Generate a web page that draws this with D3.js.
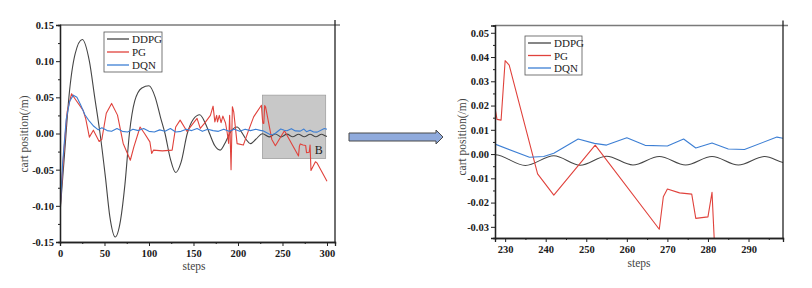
<!DOCTYPE html>
<html>
<head>
<meta charset="utf-8">
<script src="https://cdn.jsdelivr.net/npm/d3@7/dist/d3.min.js"></script>
<style>
  html, body { margin: 0; padding: 0; background: #fff; }
  svg { display: block; }
</style>
</head>
<body>
<svg id="chart" width="812" height="288"></svg>
<script>
// ---------------- data ----------------
const seriesNames = ["DDPG", "PG", "DQN"];

const ddpgSteps = [0, 5, 10, 17, 25, 33, 39, 45, 51, 56, 62, 68, 73, 78, 84, 92, 100, 107, 113, 118, 124, 130, 136, 143, 150, 157, 163, 168, 174, 180, 186, 192, 199, 204, 209, 214, 220, 227.5, 235, 242, 248.5, 255, 261.5, 268, 274.5, 281, 287.5, 294, 298.5, 300];
const ddpgValues = [-0.11, -0.03, 0.05, 0.11, 0.13, 0.10, 0.05, 0.0, -0.06, -0.115, -0.143, -0.12, -0.07, 0.0, 0.045, 0.063, 0.066, 0.05, 0.022, 0.0, -0.035, -0.054, -0.04, 0.0, 0.02, 0.026, 0.015, 0.0, -0.017, -0.023, -0.012, 0.003, 0.009, 0.002, -0.008, -0.014, -0.008, -0.0003, -0.0047, -0.0007, -0.0046, -0.0009, -0.0045, -0.001, -0.0045, -0.001, -0.0045, -0.001, -0.0035, -0.004];

const pgSteps = [0, 4, 8, 13, 18, 26, 29, 33, 37.5, 44, 47, 52, 58, 64.6, 71, 79, 83, 90, 95, 101, 103, 105, 115, 126, 130, 135, 142.6, 154, 157.6, 163, 169, 172, 174, 176, 177, 179, 181, 183, 186, 188, 189.5, 190.6, 192.2, 193.7, 195.2, 199, 206, 212, 217.6, 226.3, 227.5, 228, 229, 230, 231, 238, 242, 252.2, 268, 269, 270, 273, 276, 277, 280, 281, 282, 287, 289, 300];
const pgValues = [-0.108, -0.03, 0.03, 0.055, 0.046, 0.032, 0.02, -0.005, 0.0046, -0.011, -0.008, 0.028, 0.0416, 0.0254, -0.0138, -0.037, -0.0185, 0.009, 0.0, -0.0116, -0.0277, -0.023, -0.024, -0.023, 0.009, 0.0185, 0.003, 0.0208, 0.007, 0.015, 0.025, 0.0378, 0.016, 0.025, 0.016, 0.025, 0.015, 0.024, 0.0145, 0.0, -0.0138, 0.025, -0.05, 0.037, 0.03, -0.014, -0.016, 0.0046, 0.023, 0.039, 0.019, 0.0143, 0.014, 0.0385, 0.0367, -0.0082, -0.0169, 0.0037, -0.031, -0.0176, -0.0144, -0.016, -0.0165, -0.0265, -0.0259, -0.0158, -0.051, -0.039, -0.041, -0.066];

const dqnSteps = [0, 3, 7, 11, 15, 19, 23, 28, 33, 38, 43, 47, 53, 58, 64, 70, 76, 82, 88, 94, 100, 106, 112, 118, 124, 130, 136, 142, 148, 154, 160, 166, 172, 178, 184, 190, 196, 202, 208, 214, 220, 226, 227.5, 236, 239.5, 242, 248, 252, 255, 260, 264.5, 270, 274, 277, 281, 285, 289, 297, 300];
const dqnValues = [-0.11, -0.04, 0.02, 0.045, 0.053, 0.05, 0.04, 0.026, 0.017, 0.01, 0.005, 0.008, 0.004, 0.003, 0.007, 0.003, 0.002, 0.006, 0.004, 0.007, 0.003, 0.002, 0.005, 0.003, 0.007, 0.002, 0.003, 0.006, 0.004, 0.007, 0.003, 0.006, 0.004, 0.003, 0.006, 0.003, 0.006, 0.003, 0.006, 0.004, 0.006, 0.004, 0.0041, -0.0013, -0.001, 0.0003, 0.0062, 0.0044, 0.0037, 0.0067, 0.0036, 0.0033, 0.0062, 0.0025, 0.0046, 0.0021, 0.0019, 0.007, 0.006];

const leftXTicks = [0, 50, 100, 150, 200, 250, 300];
const leftXMinor = [25, 75, 125, 175, 225, 275];
const leftYTicks = [-0.15, -0.10, -0.05, 0.00, 0.05, 0.10, 0.15];
const leftYMinor = [-0.125, -0.075, -0.025, 0.025, 0.075, 0.125];
const rightXTicks = [230, 240, 250, 260, 270, 280, 290];
const rightXMinor = [235, 245, 255, 265, 275, 285, 295];
const rightYTicks = [-0.03, -0.02, -0.01, 0.00, 0.01, 0.02, 0.03, 0.04, 0.05];
const rightYMinor = [-0.025, -0.015, -0.005, 0.005, 0.015, 0.025, 0.035, 0.045];

const zoomBoxX = [227.5, 298.5];
const zoomBoxY = [-0.0346, 0.053];
const xTitle = "steps";
const yTitle = "cart position(/m)";

// ---------------- styling ----------------
const colors = { DDPG: "#454545", PG: "#e0423c", DQN: "#3d7fd4" };
const serif = "'Liberation Serif', 'Times New Roman', serif";

const svg = d3.select("#chart");
svg.append("rect").attr("width", 812).attr("height", 288).attr("fill", "#fff");

const series = [
  { name: "DDPG", steps: ddpgSteps, values: ddpgValues, curve: d3.curveMonotoneX },
  { name: "PG", steps: pgSteps, values: pgValues, curve: d3.curveLinear },
  { name: "DQN", steps: dqnSteps, values: dqnValues, curve: d3.curveLinear }
];

function fmt(d) { return d.toFixed(2); }

function panel(cfg) {
  const x = d3.scaleLinear().domain(cfg.xDomain).range([cfg.left, cfg.right]);
  const y = d3.scaleLinear().domain(cfg.yDomain).range([cfg.bottom, cfg.top]);
  const g = svg.append("g");
  const clipId = "clip-" + cfg.id;
  g.append("clipPath").attr("id", clipId).append("rect")
    .attr("x", cfg.left).attr("y", cfg.top)
    .attr("width", cfg.right - cfg.left).attr("height", cfg.bottom - cfg.top);

  if (cfg.box) {
    const bx0 = x(zoomBoxX[0]), bx1 = x(zoomBoxX[1]);
    const by0 = y(zoomBoxY[1]), by1 = y(zoomBoxY[0]);
    g.append("rect").attr("x", bx0).attr("y", by0)
      .attr("width", bx1 - bx0).attr("height", by1 - by0)
      .attr("fill", "#c8c8c8").attr("stroke", "#a0a0a0").attr("stroke-width", 0.8);
    g.append("text").attr("x", bx1 - 7).attr("y", by1 - 5)
      .attr("text-anchor", "middle").attr("font-family", serif)
      .attr("font-size", 12).attr("fill", "#222").text("B");
  }

  const lines = g.append("g").attr("clip-path", `url(#${clipId})`);
  series.forEach(s => {
    const pts = s.steps.map((st, i) => [st, s.values[i]]);
    const line = d3.line().x(d => x(d[0])).y(d => y(d[1])).curve(s.curve);
    lines.append("path").attr("d", line(pts)).attr("fill", "none")
      .attr("stroke", colors[s.name]).attr("stroke-width", 1.1)
      .attr("stroke-linejoin", "round");
  });

  // frame: top (gray) and right (black)
  g.append("line").attr("x1", cfg.left).attr("x2", cfg.right + 5)
    .attr("y1", cfg.top).attr("y2", cfg.top)
    .attr("stroke", "#7a7a7a").attr("stroke-width", 1.6);
  g.append("line").attr("x1", cfg.right).attr("x2", cfg.right)
    .attr("y1", cfg.top - 5).attr("y2", cfg.bottom)
    .attr("stroke", "#222").attr("stroke-width", 1.3);

  // axes
  const xAxis = d3.axisBottom(x).tickValues(cfg.xTicks).tickFormat(d => d).tickSize(4).tickPadding(4);
  const xMinor = d3.axisBottom(x).tickValues(cfg.xMinor).tickFormat("").tickSize(2);
  const yAxis = d3.axisLeft(y).tickValues(cfg.yTicks).tickFormat(fmt).tickSize(4).tickPadding(2);
  const yMinor = d3.axisLeft(y).tickValues(cfg.yMinor).tickFormat("").tickSize(2);

  [[xAxis, "x"], [xMinor, "x"], [yAxis, "y"], [yMinor, "y"]].forEach(([ax, k]) => {
    const a = g.append("g")
      .attr("transform", k === "x" ? `translate(0,${cfg.bottom})` : `translate(${cfg.left},0)`)
      .call(ax);
    a.attr("font-family", serif).attr("font-size", 10.5).attr("font-weight", "bold");
    a.select(".domain").attr("stroke", "#222").attr("stroke-width", 1.3);
    a.selectAll(".tick line").attr("stroke", "#222").attr("stroke-width", 1);
    a.selectAll(".tick text").attr("fill", "#1a1a1a")
      .style("font-family", serif).style("font-weight", "bold").style("font-size", "10.5px");
  });

  // titles
  g.append("text").attr("x", cfg.xTitleX).attr("y", cfg.xTitleY)
    .attr("text-anchor", "middle").attr("font-family", serif)
    .attr("font-size", 11.5).attr("fill", "#444").text(xTitle);
  g.append("text")
    .attr("transform", `translate(${cfg.yTitleX},${cfg.yTitleY}) rotate(-90)`)
    .attr("text-anchor", "middle").attr("font-family", serif)
    .attr("font-size", 11.5).attr("fill", "#444").text(yTitle);

  // legend
  const L = cfg.legend;
  g.append("rect").attr("x", L.x).attr("y", L.y).attr("width", L.w).attr("height", L.h)
    .attr("fill", "#fff").attr("stroke", "#555").attr("stroke-width", 0.8);
  seriesNames.forEach((n, i) => {
    const yy = L.y + 7 + i * L.step;
    g.append("line").attr("x1", L.x + 3).attr("x2", L.x + 3 + L.lineLen)
      .attr("y1", yy).attr("y2", yy)
      .attr("stroke", colors[n]).attr("stroke-width", 1.3);
    g.append("text").attr("x", L.x + 6 + L.lineLen).attr("y", yy + 4)
      .attr("font-family", serif).attr("font-size", 11).attr("fill", "#222").text(n);
  });
}

panel({
  id: "left", left: 60, right: 335, top: 25, bottom: 242,
  xDomain: [0, 309], yDomain: [-0.15, 0.15],
  xTicks: leftXTicks, xMinor: leftXMinor, yTicks: leftYTicks, yMinor: leftYMinor,
  box: true,
  xTitleX: 194, xTitleY: 270, yTitleX: 28, yTitleY: 134,
  legend: { x: 104, y: 32, w: 58, h: 40, step: 13, lineLen: 22 }
});

panel({
  id: "right", left: 495, right: 783, top: 25.5, bottom: 238,
  xDomain: [227.5, 298.5], yDomain: [-0.0346, 0.053],
  xTicks: rightXTicks, xMinor: rightXMinor, yTicks: rightYTicks, yMinor: rightYMinor,
  box: false,
  xTitleX: 639, xTitleY: 267, yTitleX: 466, yTitleY: 137,
  legend: { x: 525, y: 36, w: 57, h: 39, step: 12.5, lineLen: 23 }
});

// arrow between the panels
const arrow = d3.path();
arrow.moveTo(349, 133);
arrow.lineTo(436, 133);
arrow.lineTo(436, 130);
arrow.lineTo(443, 137);
arrow.lineTo(436, 144);
arrow.lineTo(436, 141);
arrow.lineTo(349, 141);
arrow.closePath();
svg.append("path").attr("d", arrow.toString())
  .attr("fill", "#8faadc").attr("stroke", "#4a4a4a").attr("stroke-width", 1);
</script>
</body>
</html>
